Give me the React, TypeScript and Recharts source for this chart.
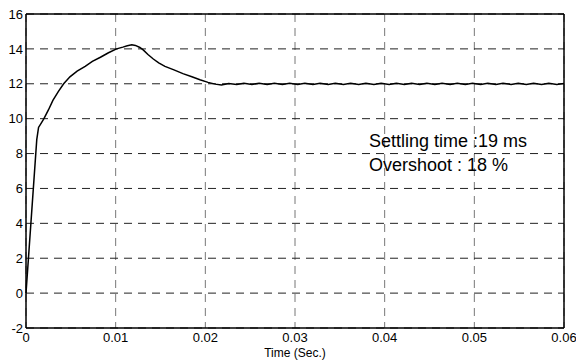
import { CartesianGrid, Line, LineChart, ReferenceLine, XAxis, YAxis } from "recharts";

const times = [
  0, 0.0012, 0.0014, 0.0017, 0.002, 0.0025, 0.003, 0.0036, 0.0042, 0.0049, 0.0057, 0.0066, 0.0074, 0.0083,
  0.0092, 0.0101, 0.0108, 0.0113, 0.0118, 0.0122, 0.0127, 0.0131, 0.0136, 0.0142, 0.0148, 0.0155, 0.0165,
  0.0175, 0.0185, 0.0194, 0.0203, 0.0211, 0.0218,
  0.0226, 0.0235, 0.0243, 0.0252, 0.026, 0.0269, 0.0277, 0.0286, 0.0294, 0.0303, 0.0311, 0.032, 0.0328,
  0.0337, 0.0345, 0.0354, 0.0362, 0.0371, 0.0379, 0.0388, 0.0396, 0.0405, 0.0413, 0.0422, 0.043, 0.0439,
  0.0447, 0.0456, 0.0464, 0.0473, 0.0481, 0.049, 0.0498, 0.0507, 0.0515, 0.0524, 0.0532, 0.0541, 0.0549,
  0.0558, 0.0566, 0.0575, 0.0583, 0.0592, 0.06,
];

const speed = [
  0, 8.8, 9.5, 9.75, 10.0, 10.5, 11.05, 11.55, 12.0, 12.4, 12.72, 13.0, 13.28, 13.52,
  13.78, 14.0, 14.1, 14.18, 14.24, 14.2, 14.08, 13.93, 13.68, 13.42, 13.2, 13.0, 12.8,
  12.58, 12.4, 12.23, 12.08, 11.98, 11.93,
  12.02, 11.96, 12.03, 11.96, 12.03, 11.96, 12.03, 11.96, 12.03, 11.96, 12.03, 11.96, 12.03,
  11.96, 12.03, 11.96, 12.03, 11.96, 12.03, 11.96, 12.03, 11.96, 12.03, 11.96, 12.03, 11.96,
  12.03, 11.96, 12.03, 11.96, 12.03, 11.96, 12.03, 11.96, 12.03, 11.96, 12.03, 11.96, 12.03,
  11.96, 12.03, 11.96, 12.03, 11.96, 12.02,
];

const xTicks = [0, 0.01, 0.02, 0.03, 0.04, 0.05, 0.06];
const yTicks = [-2, 0, 2, 4, 6, 8, 10, 12, 14, 16];

const notes = ["Settling time :19 ms", "Overshoot : 18 %"];

const rows = times.map((t, i) => ({ t, v: speed[i] }));

const font = "'Liberation Sans', Arial, sans-serif";
const tick = { fontSize: 13, fill: "#000", fontFamily: font };

export default function App() {
  return (
    <div style={{ position: "absolute", left: 0, top: 0, width: 576, height: 360, background: "#fff" }}>
      <LineChart width={576} height={360} data={rows} margin={{ top: 14, right: 12, left: 0, bottom: 0 }}>
        <CartesianGrid horizontal={false} stroke="#777" strokeDasharray="8 6" />
        <CartesianGrid vertical={false} stroke="#222" strokeDasharray="8 6" />
        <XAxis
          dataKey="t"
          type="number"
          domain={[0, 0.06]}
          ticks={xTicks}
          height={32}
          tickSize={0}
          tickMargin={5}
          tick={tick}
          stroke="#000"
          strokeWidth={1.5}
          label={{ value: "Time (Sec.)", position: "insideBottom", offset: 3, style: { fontSize: 12, fill: "#000", fontFamily: font } }}
        />
        <YAxis
          type="number"
          domain={[-2, 16]}
          ticks={yTicks}
          width={26}
          tickSize={0}
          tickMargin={3}
          tick={tick}
          stroke="#000"
          strokeWidth={1.5}
        />
        <ReferenceLine y={16} stroke="#000" strokeWidth={1.5} />
        <ReferenceLine x={0.06} stroke="#000" strokeWidth={1.5} />
        <Line
          type="linear"
          dataKey="v"
          stroke="#000"
          strokeWidth={1.5}
          dot={false}
          isAnimationActive={false}
        />
      </LineChart>
      <div
        style={{
          position: "absolute",
          left: 369,
          top: 128.5,
          fontFamily: font,
          fontSize: 18,
          lineHeight: "24px",
          color: "#000",
          whiteSpace: "nowrap",
        }}
      >
        {notes.map((n) => (
          <div key={n}>{n}</div>
        ))}
      </div>
    </div>
  );
}
